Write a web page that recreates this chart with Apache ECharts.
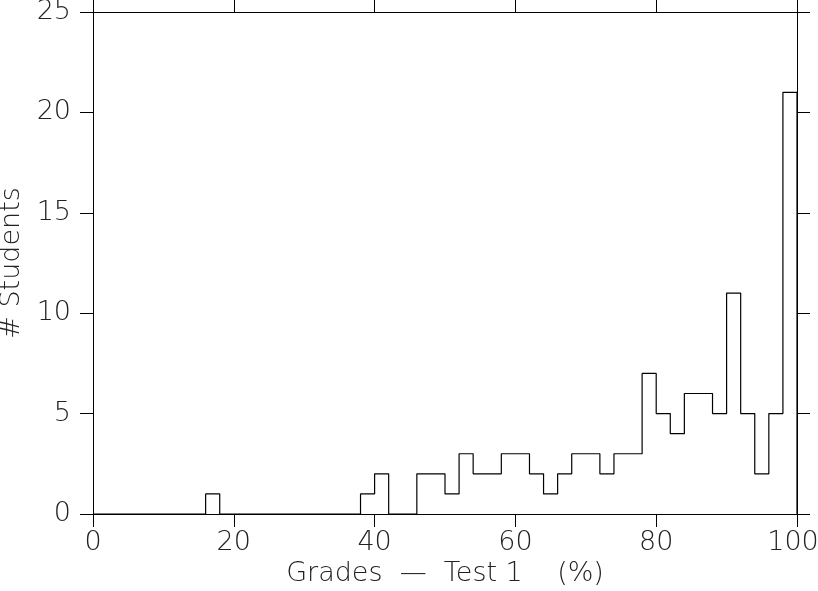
<!DOCTYPE html>
<html>
<head>
<meta charset="utf-8">
<script src="https://cdn.jsdelivr.net/npm/echarts@6/dist/echarts.min.js"></script>
<style>
html,body{margin:0;padding:0;background:#fff;}
#chart{width:818px;height:591px;}
</style>
</head>
<body>
<div id="chart"></div>
<script>
// Histogram bins: width 2, left edges 0..98
const binWidth = 2;
const binStarts = [0,2,4,6,8,10,12,14,16,18,20,22,24,26,28,30,32,34,36,38,
  40,42,44,46,48,50,52,54,56,58,60,62,64,66,68,70,72,74,76,78,
  80,82,84,86,88,90,92,94,96,98];
const counts = [0,0,0,0,0,0,0,0,1,0,0,0,0,0,0,0,0,0,0,1,
  2,0,0,2,2,1,3,2,2,3,3,2,1,2,3,3,2,3,3,7,
  5,4,6,6,5,11,5,2,5,21];
const xTicks = [0,20,40,60,80,100];
const yTicks = [0,5,10,15,20,25];
const xName = 'Grades  —  Test 1    (%)';
const yName = '# Students';

// step outline points
const pts = [[0,0]];
for (let i = 0; i < binStarts.length; i++) pts.push([binStarts[i], counts[i]]);
pts.push([binStarts[binStarts.length-1] + binWidth, counts[counts.length-1]]);
pts.push([binStarts[binStarts.length-1] + binWidth, 0]);

const font = "'DejaVu Sans ExtraLight', 'DejaVu Sans'";
const txt = {color:'#222', fontFamily:font, fontWeight:200, fontSize:27};
const lineStyle = {color:'#000', width:1};
const xMax = xTicks[xTicks.length-1];

const chart = echarts.init(document.getElementById('chart'), null, {renderer:'canvas'});
chart.setOption({
  animation:false,
  backgroundColor:'#fff',
  grid:{left:93, right:21, top:12, bottom:77, containLabel:false, outerBoundsMode:'none'},
  xAxis:[{
    type:'value', min:xTicks[0], max:xMax, interval:20, position:'bottom',
    name:xName, nameLocation:'middle', nameGap:46,
    nameTextStyle:txt,
    axisLine:{show:true, onZero:false, lineStyle},
    axisTick:{show:true, inside:false, length:13, lineStyle},
    axisLabel:Object.assign({margin:15,
      formatter:v => v === xMax ? '{m|' + v + '}' : String(v),
      rich:{m:Object.assign({padding:[0,8,0,0]}, txt)}
    }, txt),
    splitLine:{show:false}
  },{
    type:'value', min:xTicks[0], max:xMax, interval:20, position:'top',
    axisLine:{show:true, onZero:false, lineStyle},
    axisTick:{show:true, inside:false, length:13, lineStyle},
    axisLabel:{show:false},
    splitLine:{show:false}
  }],
  yAxis:[{
    type:'value', min:yTicks[0], max:yTicks[yTicks.length-1], interval:5, position:'left',
    name:yName, nameLocation:'middle', nameGap:63, nameRotate:90,
    nameTextStyle:txt,
    axisLine:{show:true, onZero:false, lineStyle},
    axisTick:{show:true, inside:false, length:13, lineStyle},
    axisLabel:Object.assign({margin:22}, txt),
    splitLine:{show:false}
  },{
    type:'value', min:yTicks[0], max:yTicks[yTicks.length-1], interval:5, position:'right',
    axisLine:{show:true, onZero:false, lineStyle},
    axisTick:{show:true, inside:false, length:13, lineStyle},
    axisLabel:{show:false},
    splitLine:{show:false}
  }],
  series:[{
    type:'line', step:'end', data:pts, symbol:'none',
    lineStyle:{color:'#000', width:1.2}, z:5
  }]
});
</script>
</body>
</html>
